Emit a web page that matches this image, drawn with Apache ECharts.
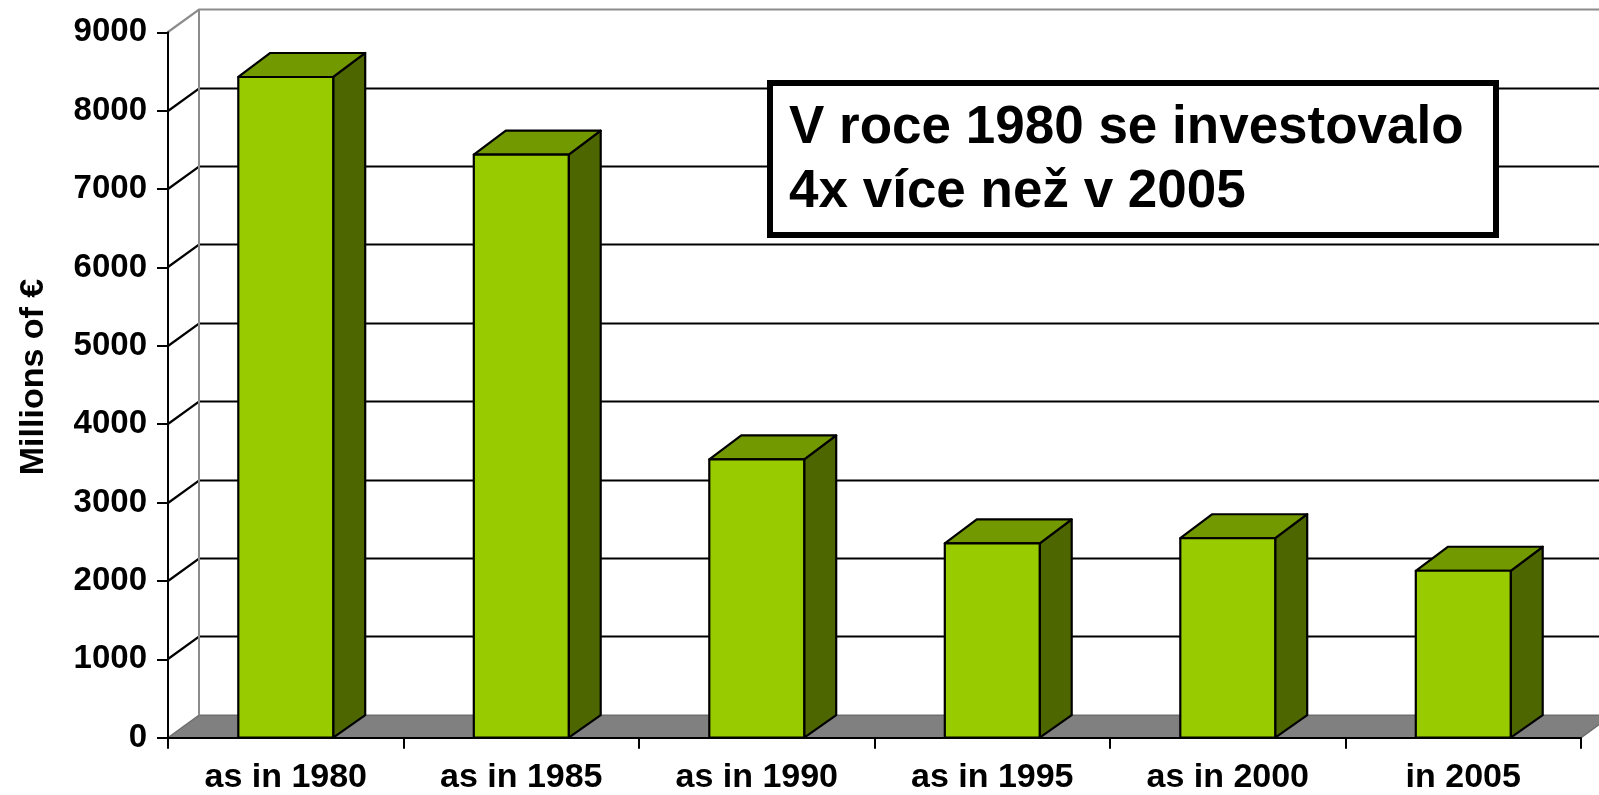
<!DOCTYPE html>
<html>
<head>
<meta charset="utf-8">
<script src="https://cdn.jsdelivr.net/npm/echarts@6/dist/echarts.min.js"></script>
<style>
html,body{margin:0;padding:0;background:#fff;}
#chart{width:1599px;height:795px;}
</style>
</head>
<body>
<div id="chart"></div>
<script>
const categories = ['as in 1980', 'as in 1985', 'as in 1990', 'as in 1995', 'as in 2000', 'in 2005'];
const investment = [8430, 7440, 3550, 2480, 2545, 2130];
const yTicks = [0, 1000, 2000, 3000, 4000, 5000, 6000, 7000, 8000, 9000];
const yTitle = 'Millions of €';
const noteLines = ['V roce 1980 se investovalo', '4x více než v 2005'];

const FONT = '"Liberation Sans", Arial, sans-serif';
const WALL_DX = 31, WALL_DY = -22.5;
const BAR_DX = 32, BAR_DY = -24;
const BAR_FRAC = 0.403;

const chart = echarts.init(document.getElementById('chart'));

function renderWall(params, api) {
  const cs = params.coordSys;
  const v = api.value(1);
  const y = Math.round(api.coord([0, v])[1]);
  const y0 = api.coord([0, 0])[1];
  const x0 = cs.x;
  const xr = cs.x + cs.width;
  const top = yTicks[yTicks.length - 1];
  if (v === 0) {
    return {
      type: 'polygon',
      shape: { points: [[x0, y0], [xr, y0], [xr + WALL_DX, y0 + WALL_DY], [x0 + WALL_DX, y0 + WALL_DY]] },
      style: { fill: '#808080', stroke: '#6e6e6e', lineWidth: 1.5 }
    };
  }
  const col = v === top ? '#8c8c8c' : '#000';
  const children = [
    { type: 'polyline', shape: { points: [[x0, y], [x0 + WALL_DX, y + WALL_DY], [xr + WALL_DX + 30, y + WALL_DY]] },
      style: { stroke: col, lineWidth: 2.2, fill: null } }
  ];
  if (v === top) {
    children.push({ type: 'line', shape: { x1: x0 + WALL_DX, y1: y + WALL_DY, x2: x0 + WALL_DX, y2: y0 + WALL_DY },
      style: { stroke: '#8c8c8c', lineWidth: 2 } });
  }
  return { type: 'group', children };
}

function renderBar(params, api) {
  const i = api.value(0);
  const v = api.value(1);
  const t = api.coord([i, v]);
  const b = api.coord([i, 0]);
  const w = api.size([1, 0])[0] * BAR_FRAC;
  const xl = t[0] - w / 2, xr = t[0] + w / 2, yt = t[1], yb = b[1];
  const st = { stroke: '#000', lineWidth: 2.2, lineJoin: 'round' };
  return {
    type: 'group',
    children: [
      { type: 'polygon', shape: { points: [[xr, yt], [xr + BAR_DX, yt + BAR_DY], [xr + BAR_DX, yb + WALL_DY], [xr, yb]] },
        style: Object.assign({ fill: '#4d6600' }, st) },
      { type: 'polygon', shape: { points: [[xl, yt], [xr, yt], [xr + BAR_DX, yt + BAR_DY], [xl + BAR_DX, yt + BAR_DY]] },
        style: Object.assign({ fill: '#739900' }, st) },
      { type: 'rect', shape: { x: xl, y: yt, width: w, height: yb - yt },
        style: Object.assign({ fill: '#99cc00' }, st) }
    ]
  };
}

const option = {
  backgroundColor: '#fff',
  animation: false,
  grid: { left: 168, right: 18, top: 32.3, bottom: 57.3, outerBoundsMode: 'none' },
  xAxis: {
    type: 'category',
    data: categories,
    z: 10,
    axisLine: { lineStyle: { color: '#000', width: 2 } },
    axisTick: { show: true, length: 11, lineStyle: { color: '#000', width: 2 } },
    axisLabel: { color: '#000', fontFamily: FONT, fontWeight: 'bold', fontSize: 34, margin: 23, interval: 0 },
    splitLine: { show: false }
  },
  yAxis: {
    type: 'value',
    min: 0, max: 9000, interval: 1000,
    z: 10,
    axisLine: { show: true, lineStyle: { color: '#000', width: 2 } },
    axisTick: { show: true, length: 11, lineStyle: { color: '#000', width: 2 } },
    axisLabel: { color: '#000', fontFamily: FONT, fontWeight: 'bold', fontSize: 33, margin: 21,
      formatter: v => String(v) },
    splitLine: { show: false }
  },
  graphic: [
    { type: 'text', x: 34, y: 377, rotation: Math.PI / 2, z: 20,
      style: { text: yTitle, fill: '#000', font: 'bold 34px ' + FONT, align: 'center', verticalAlign: 'middle' } },
    { type: 'rect', z: 20, shape: { x: 770, y: 83, width: 726, height: 152 },
      style: { fill: '#fff', stroke: '#000', lineWidth: 6 } },
    { type: 'text', z: 21, x: 789, y: 96,
      style: { text: noteLines.join('\n'), fill: '#000', font: 'bold 53px ' + FONT, lineHeight: 64, align: 'left', verticalAlign: 'top' } }
  ],
  series: [
    { type: 'custom', z: 1, clip: false, silent: true, renderItem: renderWall,
      data: yTicks.map(v => [0, v]) },
    { type: 'custom', z: 3, clip: false, renderItem: renderBar,
      data: investment.map((v, i) => [i, v]) }
  ]
};
chart.setOption(option);
</script>
</body>
</html>
